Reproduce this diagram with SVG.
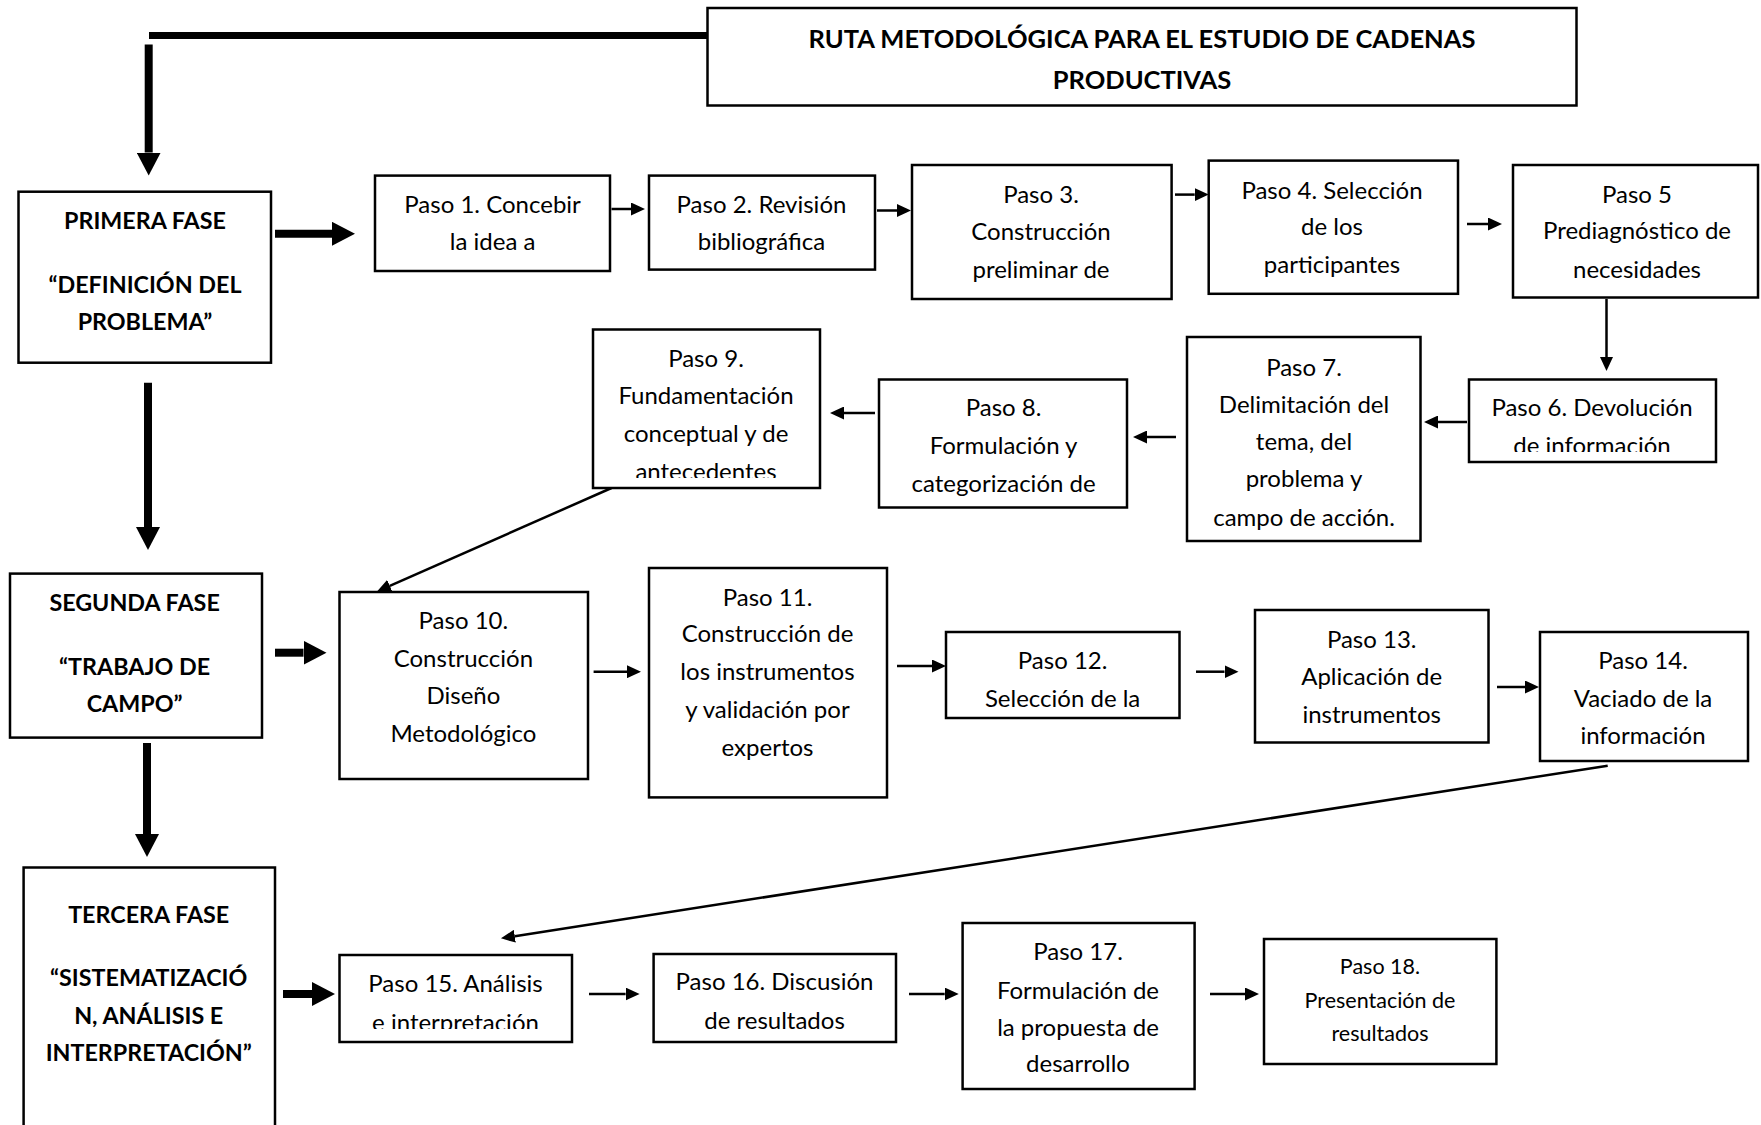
<svg xmlns="http://www.w3.org/2000/svg" width="1761" height="1125" viewBox="0 0 1761 1125">
<style>
.box{fill:#fff;stroke:#000;stroke-width:2.5}
.t{font-family:Lato,"Liberation Sans",sans-serif;font-size:24px;text-anchor:middle;fill:#000}
.b{font-weight:bold;font-size:23.3px}
.h{font-size:25.5px}
.s{font-size:21.5px}
.thin{stroke:#000;stroke-width:2.5;fill:none;marker-end:url(#sm)}
.thick{stroke:#000;stroke-width:8;fill:none;marker-end:url(#big)}
</style>
<defs>
<marker id="sm" markerUnits="userSpaceOnUse" markerWidth="14" markerHeight="13" refX="0" refY="6.5" orient="auto"><path d="M0,0 L14,6.5 L0,13 z" fill="#000"/></marker>
<marker id="big" markerUnits="userSpaceOnUse" markerWidth="23" markerHeight="24" refX="0" refY="12" orient="auto"><path d="M0,0 L23,12 L0,24 z" fill="#000"/></marker>
<clipPath id="c6"><rect x="1469" y="379" width="247" height="73"/></clipPath>
<clipPath id="c9"><rect x="593" y="329" width="227" height="149"/></clipPath>
<clipPath id="c15"><rect x="339" y="955" width="233" height="74"/></clipPath>
</defs>
<rect width="1761" height="1125" fill="#fff"/>

<g id="connectors">
<line x1="707" y1="35.5" x2="149" y2="35.5" stroke="#000" stroke-width="7"/>
<line class="thick" x1="148.7" y1="44.6" x2="148.7" y2="152.6"/>
<line class="thick" x1="275" y1="233.8" x2="332" y2="233.8"/>
<line class="thick" x1="148" y1="382.7" x2="148" y2="527"/>
<line class="thick" x1="275" y1="652.7" x2="303.5" y2="652.7"/>
<line class="thick" x1="147" y1="743" x2="147" y2="834"/>
<line class="thick" x1="283" y1="994" x2="312" y2="994"/>

<line class="thin" x1="611.5" y1="209" x2="631" y2="209"/>
<line class="thin" x1="877" y1="210.5" x2="897" y2="210.5"/>
<line class="thin" x1="1175" y1="194.6" x2="1194.7" y2="194.6"/>
<line class="thin" x1="1467" y1="224" x2="1488" y2="224"/>
<line class="thin" x1="1606.5" y1="299" x2="1606.5" y2="357"/>
<line class="thin" x1="1467" y1="422" x2="1438" y2="422"/>
<line class="thin" x1="1176" y1="437" x2="1147" y2="437"/>
<line class="thin" x1="875" y1="413" x2="844" y2="413"/>
<line class="thin" x1="611.5" y1="488" x2="389.8" y2="585.85"/>
<line class="thin" x1="593.6" y1="671.7" x2="627" y2="671.7"/>
<line class="thin" x1="897" y1="666" x2="932" y2="666"/>
<line class="thin" x1="1196" y1="671.7" x2="1224.5" y2="671.7"/>
<line class="thin" x1="1497" y1="687" x2="1525" y2="687"/>
<line class="thin" x1="1607.7" y1="765.7" x2="514.8" y2="936.2"/>
<line class="thin" x1="589" y1="994" x2="625.6" y2="994"/>
<line class="thin" x1="909" y1="994" x2="944.7" y2="994"/>
<line class="thin" x1="1210" y1="994" x2="1245" y2="994"/>
</g>

<g id="title">
<rect class="box" x="707.5" y="8" width="869" height="97.5"/>
<text class="t b h" x="1142" y="48">RUTA METODOLÓGICA PARA EL ESTUDIO DE CADENAS</text>
<text class="t b h" x="1142" y="88.5">PRODUCTIVAS</text>
</g>

<g id="fase1">
<rect class="box" x="18.5" y="191.7" width="252.5" height="171"/>
<text class="t b" x="145" y="229">PRIMERA FASE</text>
<text class="t b" x="145" y="293">“DEFINICIÓN DEL</text>
<text class="t b" x="145" y="330">PROBLEMA”</text>
</g>

<g id="fase2">
<rect class="box" x="10" y="573.6" width="252" height="164"/>
<text class="t b" x="134.6" y="611">SEGUNDA FASE</text>
<text class="t b" x="134.6" y="675">“TRABAJO DE</text>
<text class="t b" x="134.6" y="712">CAMPO”</text>
</g>

<g id="fase3">
<rect class="box" x="23.6" y="867.5" width="251.4" height="300"/>
<text class="t b" x="148.7" y="923">TERCERA FASE</text>
<text class="t b" x="148.7" y="986">“SISTEMATIZACIÓ</text>
<text class="t b" x="148.7" y="1024">N, ANÁLISIS E</text>
<text class="t b" x="148.7" y="1060.5">INTERPRETACIÓN”</text>
</g>

<g id="paso1">
<rect class="box" x="375" y="175.6" width="235" height="95.4"/>
<text class="t" x="492.6" y="213">Paso 1. Concebir</text>
<text class="t" x="492.6" y="250">la idea a</text>
</g>
<g id="paso2">
<rect class="box" x="649" y="175.6" width="226" height="94"/>
<text class="t" x="761.5" y="213">Paso 2. Revisión</text>
<text class="t" x="761.5" y="250">bibliográfica</text>
</g>
<g id="paso3">
<rect class="box" x="912" y="165" width="259.6" height="134"/>
<text class="t" x="1041" y="202.6">Paso 3.</text>
<text class="t" x="1041" y="240">Construcción</text>
<text class="t" x="1041" y="277.5">preliminar de</text>
</g>
<g id="paso4">
<rect class="box" x="1208.7" y="160.6" width="249.3" height="133.2"/>
<text class="t" x="1332" y="199">Paso 4. Selección</text>
<text class="t" x="1332" y="235.4">de los</text>
<text class="t" x="1332" y="273">participantes</text>
</g>
<g id="paso5">
<rect class="box" x="1513" y="165" width="245" height="132.5"/>
<text class="t" x="1637" y="202.6">Paso 5</text>
<text class="t" x="1637" y="239">Prediagnóstico de</text>
<text class="t" x="1637" y="277.5">necesidades</text>
</g>
<g id="paso6">
<rect class="box" x="1469" y="379.5" width="247" height="82.5"/>
<g clip-path="url(#c6)">
<text class="t" x="1592" y="415.7">Paso 6. Devolución</text>
<text class="t" x="1592" y="454">de información</text>
</g>
</g>
<g id="paso7">
<rect class="box" x="1187" y="337" width="233.5" height="204"/>
<text class="t" x="1304" y="375.7">Paso 7.</text>
<text class="t" x="1304" y="412.5">Delimitación del</text>
<text class="t" x="1304" y="450">tema, del</text>
<text class="t" x="1304" y="487">problema y</text>
<text class="t" x="1304" y="525.7">campo de acción.</text>
</g>
<g id="paso8">
<rect class="box" x="879" y="379.5" width="248" height="128"/>
<text class="t" x="1003.6" y="416">Paso 8.</text>
<text class="t" x="1003.6" y="453.5">Formulación y</text>
<text class="t" x="1003.6" y="491.7">categorización de</text>
</g>
<g id="paso9">
<rect class="box" x="593" y="329.5" width="227" height="158.5"/>
<g clip-path="url(#c9)">
<text class="t" x="706" y="366.8">Paso 9.</text>
<text class="t" x="706" y="404">Fundamentación</text>
<text class="t" x="706" y="441.8">conceptual y de</text>
<text class="t" x="706" y="479.5">antecedentes</text>
</g>
</g>
<g id="paso10">
<rect class="box" x="339.5" y="592" width="248.5" height="187"/>
<text class="t" x="463.4" y="629">Paso 10.</text>
<text class="t" x="463.4" y="667">Construcción</text>
<text class="t" x="463.4" y="704">Diseño</text>
<text class="t" x="463.4" y="742">Metodológico</text>
</g>
<g id="paso11">
<rect class="box" x="649" y="568" width="238" height="229.4"/>
<text class="t" x="767.5" y="605.8">Paso 11.</text>
<text class="t" x="767.5" y="642">Construcción de</text>
<text class="t" x="767.5" y="680.4">los instrumentos</text>
<text class="t" x="767.5" y="717.7">y validación por</text>
<text class="t" x="767.5" y="755.8">expertos</text>
</g>
<g id="paso12">
<rect class="box" x="946" y="632" width="233.5" height="86"/>
<text class="t" x="1062.6" y="669">Paso 12.</text>
<text class="t" x="1062.6" y="706.5">Selección de la</text>
</g>
<g id="paso13">
<rect class="box" x="1255" y="610" width="233.5" height="132.5"/>
<text class="t" x="1371.7" y="648">Paso 13.</text>
<text class="t" x="1371.7" y="685">Aplicación de</text>
<text class="t" x="1371.7" y="722.6">instrumentos</text>
</g>
<g id="paso14">
<rect class="box" x="1540" y="632" width="208" height="129"/>
<text class="t" x="1643" y="669">Paso 14.</text>
<text class="t" x="1643" y="706.5">Vaciado de la</text>
<text class="t" x="1643" y="743.8">información</text>
</g>
<g id="paso15">
<rect class="box" x="339.5" y="955" width="232.5" height="87"/>
<g clip-path="url(#c15)">
<text class="t" x="455.5" y="992">Paso 15. Análisis</text>
<text class="t" x="455.5" y="1030.5">e interpretación</text>
</g>
</g>
<g id="paso16">
<rect class="box" x="653.6" y="954" width="242.4" height="88"/>
<text class="t" x="774.5" y="990">Paso 16. Discusión</text>
<text class="t" x="774.5" y="1029">de resultados</text>
</g>
<g id="paso17">
<rect class="box" x="962.6" y="923" width="232" height="166"/>
<text class="t" x="1078" y="960">Paso 17.</text>
<text class="t" x="1078" y="998.6">Formulación de</text>
<text class="t" x="1078" y="1035.5">la propuesta de</text>
<text class="t" x="1078" y="1072">desarrollo</text>
</g>
<g id="paso18">
<rect class="box" x="1264" y="939" width="232.4" height="125"/>
<text class="t s" x="1380" y="974">Paso 18.</text>
<text class="t s" x="1380" y="1007.7">Presentación de</text>
<text class="t s" x="1380" y="1041">resultados</text>
</g>
</svg>
